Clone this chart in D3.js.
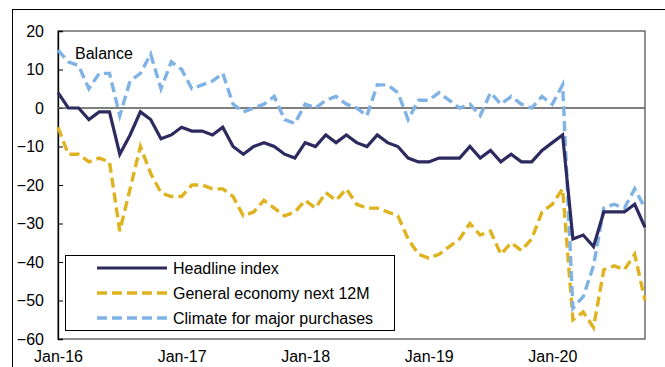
<!DOCTYPE html>
<html>
<head>
<meta charset="utf-8">
<script src="https://cdn.jsdelivr.net/npm/d3@7"></script>
<style>
  html, body { margin: 0; padding: 0; background: #fff; }
  svg { display: block; font-family: "Liberation Sans", Arial, sans-serif; }
</style>
</head>
<body>
<svg id="chart" width="665" height="367"></svg>
<script>
// ---- data ----
const months = d3.timeMonth.range(new Date(2016, 0, 1), new Date(2020, 10, 1)); // Jan-16 .. Oct-20
const fmt = d3.timeFormat("%b-%y");
const categories = months.map(fmt);

const headline = [4,0,0,-3,-1,-1,-12,-7,-1,-3,-8,-7,
  -5,-6,-6,-7,-5,-10,-12,-10,-9,-10,-12,-13,
  -9,-10,-7,-9,-7,-9,-10,-7,-9,-10,-13,-14,
  -14,-13,-13,-13,-10,-13,-11,-14,-12,-14,-14,-11,
  -9,-7,-34,-33,-36,-27,-27,-27,-25,-31];

const generalEconomy = [-5,-12,-12,-14,-13,-14,-32,-21,-10,-17,-22,-23,
  -23,-20,-20,-21,-21,-23,-28,-27,-24,-26,-28,-27,
  -24,-26,-22,-24,-21,-25,-26,-26,-27,-28,-34,-38,
  -39,-38,-36,-34,-30,-33,-32,-38,-35,-37,-34,-27,
  -25,-21,-55,-53,-57,-42,-41,-42,-38,-50];

const majorPurchases = [15,12,11,5,9,9,-2,7,9,14,5,12,
  10,5,6,7,9,1,-1,0,1,3,-3,-4,
  1,0,2,3,1,0,-2,6,6,4,-3,2,
  2,4,2,0,1,-2,4,1,3,1,0,3,
  1,6,-52,-49,-41,-26,-25,-26,-21,-26];

const xTickLabels = ["Jan-16","Jan-17","Jan-18","Jan-19","Jan-20"];
const yTicks = [20,10,0,-10,-20,-30,-40,-50,-60];
const seriesNames = ["Headline index","General economy next 12M","Climate for major purchases"];

// ---- layout ----
const svg = d3.select("#chart");
const L = 58, R = 645, T = 31, B = 339;
const x = d3.scalePoint().domain(categories).range([L, R]).padding(0);
const y = d3.scaleLinear().domain([-60, 20]).range([B, T]);

const styles = [
  { color: "#2c2a5e", dash: null, width: 3.2 },
  { color: "#dfb21f", dash: "10,5", width: 3.4 },
  { color: "#7fb2e5", dash: "10,5", width: 3.4 }
];

// outer frame
svg.append("rect").attr("x", 12.5).attr("y", 9.5).attr("width", 700).attr("height", 400)
  .attr("fill", "none").attr("stroke", "#000").attr("stroke-width", 1);

// plot frame
svg.append("rect").attr("x", L).attr("y", T).attr("width", R - L).attr("height", B - T)
  .attr("fill", "none").attr("stroke", "#555").attr("stroke-width", 1.3);

// y axis
const yAxis = d3.axisLeft(y).tickValues(yTicks).tickSize(-5).tickPadding(15).tickFormat(d3.format("d"));
const gy = svg.append("g").attr("transform", `translate(${L},0)`).call(yAxis);
gy.select(".domain").attr("stroke", "#000").attr("stroke-width", 1.3);
gy.selectAll(".tick line").attr("stroke", "#000").attr("stroke-width", 1);
gy.selectAll(".tick text").attr("font-size", 16).attr("fill", "#000")
  .attr("font-family", "'Liberation Sans', Arial, sans-serif").attr("x", -14);

// zero line
svg.append("line").attr("x1", L).attr("x2", R).attr("y1", y(0)).attr("y2", y(0))
  .attr("stroke", "#555").attr("stroke-width", 1.3);

// x axis labels
const xAxis = d3.axisBottom(x)
  .tickValues(xTickLabels)
  .tickSize(0).tickPadding(12);
const gx = svg.append("g").attr("transform", `translate(0,${B})`).call(xAxis);
gx.select(".domain").remove();
gx.selectAll(".tick text").attr("font-size", 16).attr("fill", "#000")
  .attr("font-family", "'Liberation Sans', Arial, sans-serif");

// "Balance"
svg.append("text").attr("x", 75).attr("y", 59).attr("font-size", 16).text("Balance");

// lines
const data = [headline, generalEconomy, majorPurchases];
const line = d3.line().x((d, i) => x(categories[i])).y(d => y(d));
// draw gold, then blue, then headline on top
[1, 2, 0].forEach(k => {
  svg.append("path").datum(data[k])
    .attr("d", line)
    .attr("fill", "none")
    .attr("stroke", styles[k].color)
    .attr("stroke-width", styles[k].width)
    .attr("stroke-linejoin", "miter")
    .attr("stroke-dasharray", styles[k].dash);
});

// legend
const lg = svg.append("g");
lg.append("rect").attr("x", 65.5).attr("y", 255.5).attr("width", 329).attr("height", 75)
  .attr("fill", "#fff").attr("stroke", "#000").attr("stroke-width", 1);
const legY = [268, 293, 318];
seriesNames.forEach((name, k) => {
  lg.append("line").attr("x1", 97).attr("x2", 167).attr("y1", legY[k]).attr("y2", legY[k])
    .attr("stroke", styles[k].color).attr("stroke-width", styles[k].width)
    .attr("stroke-dasharray", styles[k].dash);
  lg.append("text").attr("x", 173).attr("y", legY[k]).attr("dy", "0.35em")
    .attr("font-size", 16).text(name);
});
</script>
</body>
</html>
